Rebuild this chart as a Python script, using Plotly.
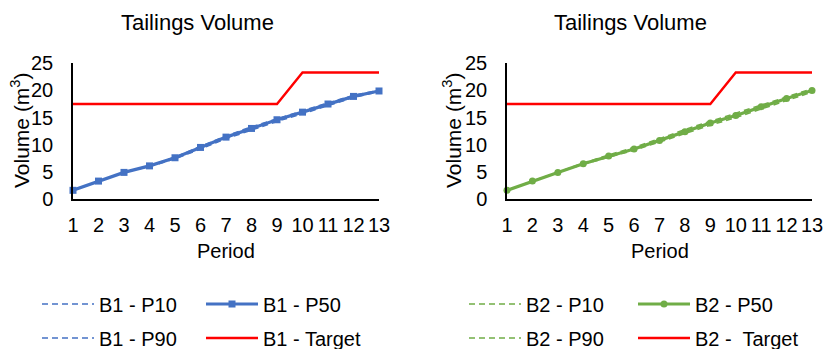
import plotly.graph_objects as go

periods = list(range(1, 14))
tick_labels = [str(p) for p in periods]

b1_p10 = [1.6, 3.3, 4.9, 6.0, 7.4, 9.2, 11.1, 12.7, 14.3, 15.7, 17.2, 18.7, 19.8]
b1_p50 = [1.6, 3.3, 4.9, 6.1, 7.6, 9.5, 11.4, 13.0, 14.6, 16.0, 17.5, 18.9, 19.9]
b1_p90 = [1.6, 3.3, 4.9, 6.1, 7.7, 9.7, 11.6, 13.3, 14.8, 16.2, 17.7, 19.1, 20.0]
b1_target = [17.5] * 9 + [23.3] * 4

b2_p10 = [1.6, 3.3, 4.9, 6.4, 7.7, 9.0, 10.5, 12.1, 13.6, 15.0, 16.6, 18.2, 19.7]
b2_p50 = [1.6, 3.3, 4.9, 6.5, 7.9, 9.2, 10.8, 12.4, 14.0, 15.4, 17.0, 18.5, 20.0]
b2_p90 = [1.6, 3.3, 5.0, 6.6, 8.1, 9.5, 11.1, 12.8, 14.3, 15.8, 17.4, 18.9, 20.3]
b2_target = [17.5] * 9 + [23.3] * 4

BLUE = "#4472C4"
GREEN = "#70AD47"
RED = "#FF0000"
FONT = "Liberation Sans, Arial, sans-serif"
W, H = 824, 349
DASH = "6px,4px"
FS = 20

fig = go.Figure()

def add(y, name, color, xa, ya, legend, dash=None, width=1.5, marker=None):
    mode = "lines+markers" if marker else "lines"
    kw = dict(x=periods, y=y, name=name, mode=mode, xaxis=xa, yaxis=ya,
              legend=legend, cliponaxis=False,
              line=dict(color=color, width=width, dash=dash))
    if marker:
        kw["marker"] = marker
    fig.add_trace(go.Scatter(**kw))

add(b1_p10, "B1 - P10", BLUE, "x", "y", "legend", dash=DASH, width=1.6)
add(b1_p50, "B1 - P50", BLUE, "x", "y", "legend2", width=3.2,
    marker=dict(symbol="square", size=7, color=BLUE))
add(b1_p90, "B1 - P90", BLUE, "x", "y", "legend3", dash=DASH, width=1.6)
add(b1_target, "B1 - Target", RED, "x", "y", "legend4", width=2.4)

add(b2_p10, "B2 - P10", GREEN, "x2", "y2", "legend5", dash=DASH, width=1.6)
add(b2_p50, "B2 - P50", GREEN, "x2", "y2", "legend6", width=3.2,
    marker=dict(symbol="circle", size=7, color=GREEN))
add(b2_p90, "B2 - P90", GREEN, "x2", "y2", "legend7", dash=DASH, width=1.6)
add(b2_target, "B2 -  Target", RED, "x2", "y2", "legend8", width=2.4)

ytop, ybot = 63.3, 199
ydom = [1 - ybot / H, 1 - ytop / H]
lx = [73 / W, 379 / W]
rx = [507 / W, 812 / W]

axis_common = dict(showgrid=False, zeroline=False, showline=True, automargin=False,
                   linecolor="#000000", linewidth=1.5, ticks="",
                   tickfont=dict(family=FONT, size=FS, color="#000"))

fig.update_layout(
    xaxis=dict(domain=lx, range=[1, 13], anchor="y", tickvals=periods,
               ticktext=tick_labels, ticklabelstandoff=7, **axis_common),
    yaxis=dict(domain=ydom, range=[0, 25], anchor="x", dtick=5,
               ticklabelstandoff=14, **axis_common),
    xaxis2=dict(domain=rx, range=[1, 13], anchor="y2", tickvals=periods,
                ticktext=tick_labels, ticklabelstandoff=7, **axis_common),
    yaxis2=dict(domain=ydom, range=[0, 25], anchor="x2", dtick=5,
                ticklabelstandoff=14, **axis_common),
)

annos = []
for cx, tx, ycx in [((73 + 379) / 2, 197, 20), ((507 + 812) / 2, 630, 452)]:
    annos.append(dict(text="Tailings Volume", x=tx / W, y=1 - 23 / H, xref="paper", yref="paper",
                      showarrow=False, xanchor="center", yanchor="middle",
                      font=dict(family=FONT, size=22, color="#000")))
    annos.append(dict(text="Period", x=cx / W, y=1 - 251 / H, xref="paper", yref="paper",
                      showarrow=False, xanchor="center", yanchor="middle",
                      font=dict(family=FONT, size=FS, color="#000")))
    annos.append(dict(text="Volume (m<sup>3</sup>)", x=ycx / W, y=1 - 130 / H, xref="paper",
                      yref="paper", showarrow=False, xanchor="center", yanchor="middle",
                      textangle=-90, font=dict(family=FONT, size=21, color="#000")))

# legends: one per item to match 2x2 layout
leg_pos = {
    "legend": (42, 304), "legend2": (206, 304), "legend3": (42, 338), "legend4": (206, 338),
    "legend5": (469, 304), "legend6": (638, 304), "legend7": (469, 338), "legend8": (638, 338),
}
leg_layout = {}
for k, (px, py) in leg_pos.items():
    leg_layout[k] = dict(x=(px - 5) / W, y=1 - py / H, xref="container", yref="container",
                         xanchor="left", yanchor="middle", orientation="h",
                         bgcolor="rgba(0,0,0,0)", borderwidth=0, itemwidth=52,
                         font=dict(family=FONT, size=FS, color="#000"))

fig.update_layout(
    width=W, height=H, margin=dict(l=0, r=0, t=0, b=0, autoexpand=False),
    paper_bgcolor="white", plot_bgcolor="white",
    showlegend=True, annotations=annos, **leg_layout,
)

fig.write_html("out.html")
